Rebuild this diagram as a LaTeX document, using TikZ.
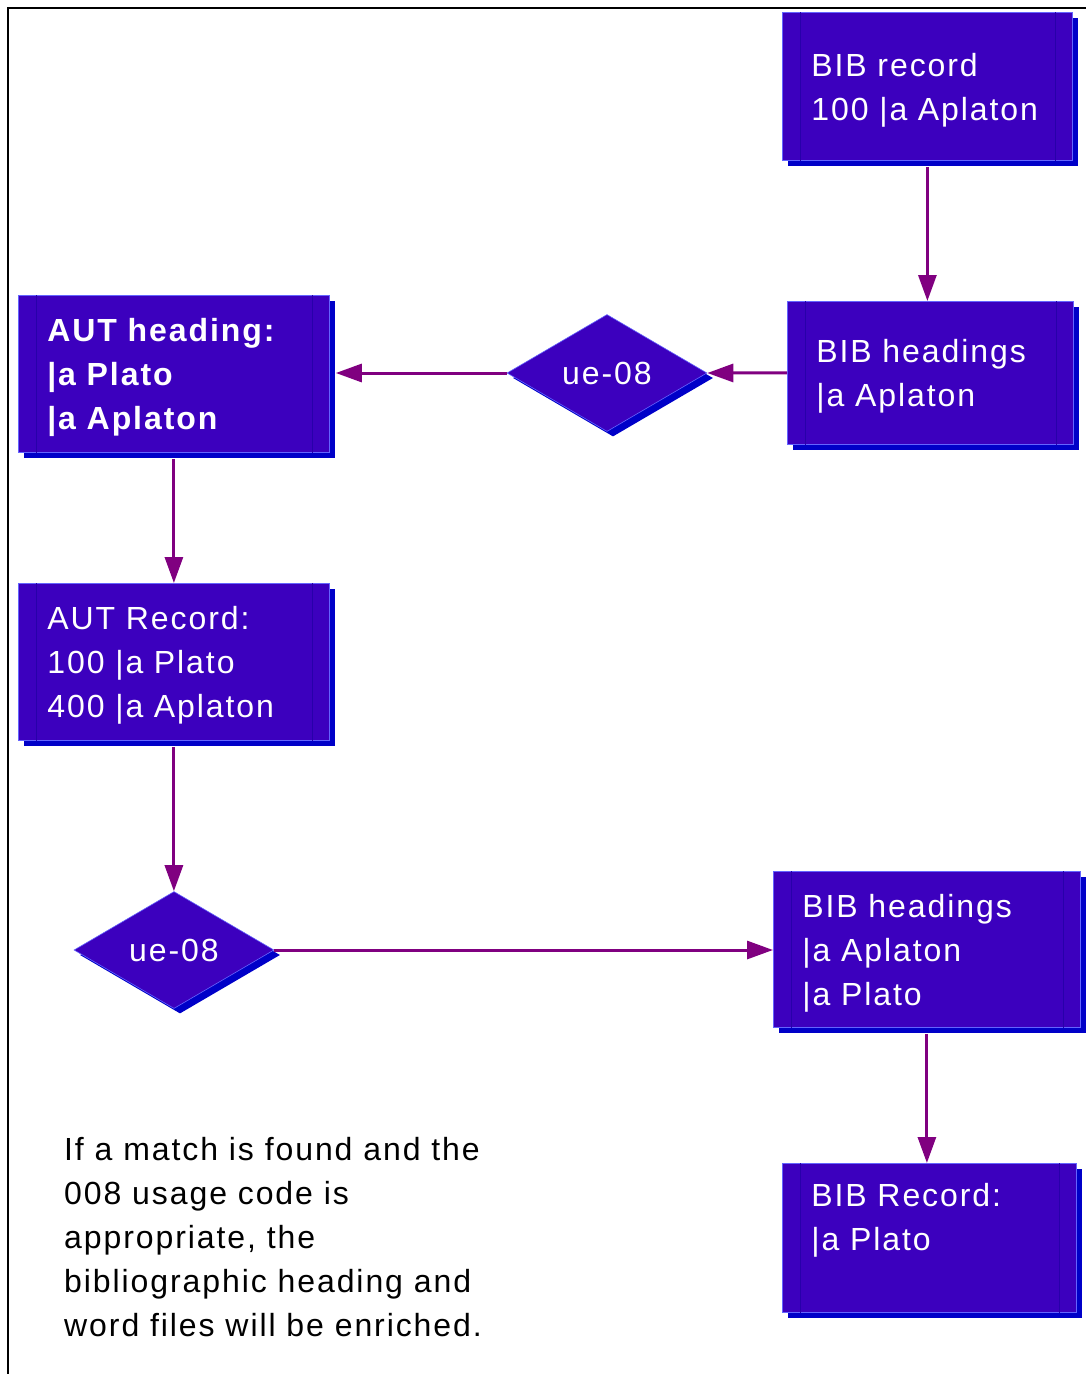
\documentclass[tikz,border=0pt]{standalone}
\usepackage{fontspec}
\setmainfont{Liberation Sans}[LetterSpace=6]
\usetikzlibrary{shapes.geometric,shadows,arrows.meta}
\definecolor{boxfill}{RGB}{60,0,190}
\definecolor{boxshadow}{RGB}{0,0,200}
\definecolor{boxedge}{RGB}{100,100,255}
\definecolor{boxline}{RGB}{40,0,170}
\definecolor{arrowc}{RGB}{128,0,128}
\tikzset{
  bigfont/.style={font=\fontsize{32}{44}\selectfont},
  recbox/.style={draw=boxedge, line width=0.8pt, fill=boxfill, text=white, align=left,
    anchor=north west, inner xsep=29pt, inner ysep=0pt, bigfont, text height=30pt,
    drop shadow={shadow xshift=6pt, shadow yshift=-6pt, fill=boxshadow, opacity=1}},
  decide/.style={diamond, draw=boxedge, line width=0.6pt, fill=boxfill, text=white, inner sep=0pt,
    minimum width=200pt, minimum height=117pt, aspect=1.7, bigfont,
    drop shadow={shadow xshift=6pt, shadow yshift=-5pt, fill=boxshadow, opacity=1}},
  flow/.style={draw=arrowc, line width=3pt, -{Triangle[length=26pt,width=18pt]}},
  divider/.style={draw=boxline, line width=1pt},
}
\begin{document}
\begin{tikzpicture}[x=1pt,y=-1pt]
\useasboundingbox (0,0) rectangle (1086,1374);
\draw[line width=2pt] (8,1374) -- (8,8) -- (1086,8);

\node[recbox, text width=232pt, minimum height=148pt] (b1) at (782,12) {BIB record\\100 |a Aplaton};
\node[recbox, text width=228pt, minimum height=143pt] (b2) at (787,301) {BIB headings\\|a Aplaton};
\node[recbox, text width=253pt, minimum height=157pt, font=\fontsize{32}{44}\selectfont\bfseries] (ah) at (18,295) {AUT heading:\\|a Plato\\|a Aplaton};
\node[recbox, text width=253pt, minimum height=157pt] (ar) at (18,583) {AUT Record:\\100 |a Plato\\400 |a Aplaton};
\node[recbox, text width=249pt, minimum height=156pt] (b3) at (773,871) {BIB headings\\|a Aplaton\\|a Plato};
\node[recbox, text width=236pt, minimum height=149pt, text height=23pt, text depth=86pt] (b4) at (782,1163) {BIB Record:\\|a Plato};

\node[decide] (d1) at (607,373) {ue-08};
\node[decide] (d2) at (174,950) {ue-08};

\foreach \n in {b1,b2,ah,ar,b3,b4}{
  \draw[divider] ([xshift=18pt]\n.north west) -- ([xshift=18pt]\n.south west);
  \draw[divider] ([xshift=-17pt]\n.north east) -- ([xshift=-17pt]\n.south east);
}

\draw[flow, shorten <=6pt] (b1.south) -- (b1.south |- b2.north);
\draw[flow] (b2.west) -- (d1.east);
\draw[flow] (d1.west) -- ([xshift=6pt]d1.west -| ah.east);
\draw[flow, shorten <=6pt] (ah.south) -- (ah.south |- ar.north);
\draw[flow, shorten <=6pt] (ar.south) -- (ar.south |- d2.north);
\draw[flow] (d2.east) -- (d2.east -| b3.west);
\draw[flow, shorten <=6pt] (b3.south) -- (b3.south |- b4.north);

\node[anchor=north west, inner sep=0pt, align=left, bigfont, text=black] (note) at (64,1137)
  {If a match is found and the\\008 usage code is\\appropriate, the\\bibliographic heading and\\word files will be enriched.};
\end{tikzpicture}
\end{document}
